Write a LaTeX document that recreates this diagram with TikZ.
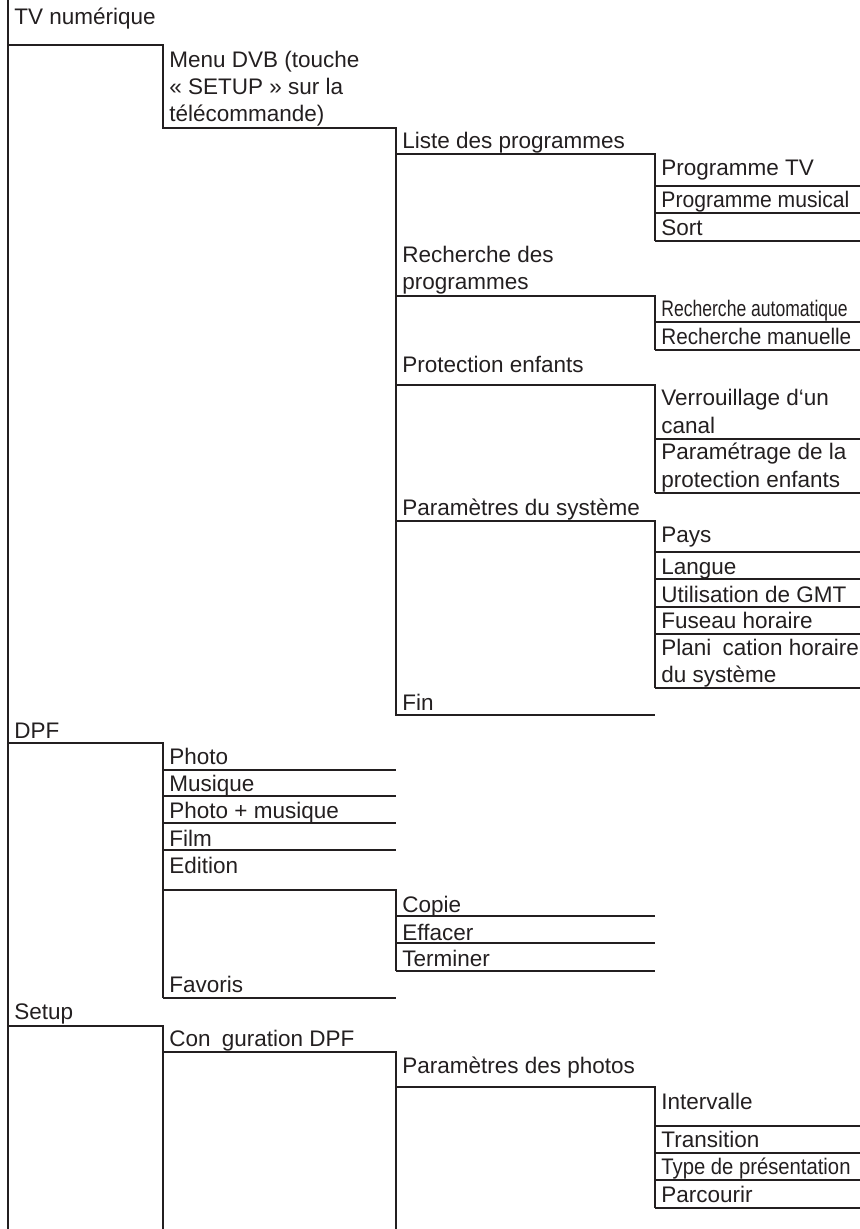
\documentclass[tikz,border=0pt]{standalone}
\usepackage{fontspec}
\setmainfont{Liberation Sans}
\usepackage{graphicx}
\definecolor{ink}{HTML}{231F20}
\newcommand\narrow[2]{\scalebox{#1}[1]{#2}}
\tikzset{
  rl/.style={draw=ink, line width=1.1pt},
  itm/.style={anchor=base west, inner sep=0pt, align=left, text=ink,
    font=\fontsize{11.25}{13.5}\selectfont},
}

\begin{document}
\begin{tikzpicture}[x=0.5pt,y=-0.5pt]
  \useasboundingbox (0,0) rectangle (860,1229);
  % branch rules
  \draw[rl] (8,0) -- (8,1229);
  \draw[rl] (8,45) -- (163,45) -- (163,128) -- (396,128) -- (396,715) -- (655,715);
  \draw[rl] (396,154) -- (655,154) -- (655,241);
  \draw[rl] (396,296) -- (655,296) -- (655,350);
  \draw[rl] (396,385) -- (655,385) -- (655,493);
  \draw[rl] (396,521) -- (655,521) -- (655,688);
  \draw[rl] (8,743) -- (163,743) -- (163,998);
  \draw[rl] (163,890) -- (396,890) -- (396,971);
  \draw[rl] (8,1026) -- (163,1026) -- (163,1229);
  \draw[rl] (163,1052) -- (396,1052) -- (396,1229);
  \draw[rl] (396,1087) -- (655,1087) -- (655,1208);
  \foreach \y in {770,796,823,850,998} \draw[rl] (163,\y) -- (396,\y);
  \foreach \y in {916,943,971} \draw[rl] (396,\y) -- (655,\y);
  \foreach \y in {186,213,241,322,350,439,493,552,579,607,634,688,1126,1153,1180,1208}
    \draw[rl] (655,\y) -- (860,\y);

  % labels (y = baseline of the last line)
  \foreach \n/\y/\t in {tv/25/{TV numérique}, dpf/738/DPF, setup/1019/Setup}
    \node[itm] (\n) at (14,\y) {\t};
  \foreach \n/\y/\t in {dvb/122/{Menu DVB (touche\\« SETUP » sur la\\télécommande)},
      photo/764/Photo, musique/791/Musique, phmus/818/{Photo + musique},
      film/846/Film, edition/873/Edition, favoris/992/Favoris,
      config/1046/{Con\phantom{fi}guration DPF}}
    \node[itm] (\n) at (169,\y) {\t};
  \foreach \n/\y/\t in {liste/149/{Liste des programmes},
      recherche/290/{Recherche des\\programmes}, protec/372/{Protection enfants},
      systeme/515/{Paramètres du système}, fin/710/Fin, copie/912/Copie,
      effacer/940/Effacer, terminer/966/Terminer, phparam/1073/{Paramètres des photos}}
    \node[itm] (\n) at (402,\y) {\t};
  \foreach \n/\y/\t in {progtv/176/{Programme TV},
      progmus/208/{\narrow{0.94}{Programme musical}}, sort/236/Sort,
      rauto/317/{\narrow{0.78}{Recherche automatique}},
      rmanu/345/{\narrow{0.92}{Recherche manuelle}},
      verrou/433/{Verrouillage d‘un\\canal}, pprot/487/{Paramétrage de la\\protection enfants},
      pays/542/Pays, langue/574/Langue, gmt/602/{Utilisation de GMT},
      fuseau/628/{Fuseau horaire}, plani/682/{Plani\phantom{fi}cation horaire\\du système},
      interv/1109/Intervalle, transit/1147/Transition,
      typepres/1174/{\narrow{0.9}{Type de présentation}}, parcour/1202/Parcourir}
    \node[itm] (\n) at (661,\y) {\t};
\end{tikzpicture}
\end{document}
